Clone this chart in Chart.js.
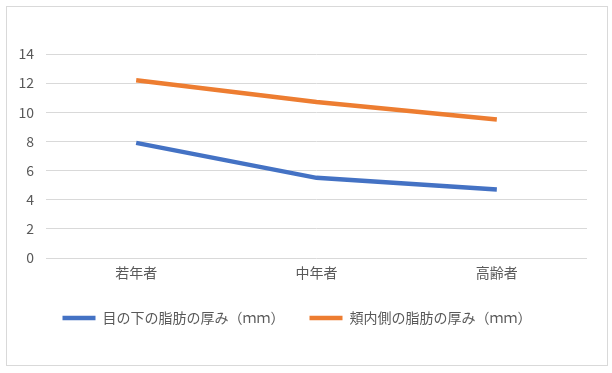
<!DOCTYPE html>
<html>
<head>
<meta charset="utf-8">
<script src="https://cdn.jsdelivr.net/npm/chart.js@4"></script>
<style>
  html, body { margin: 0; padding: 0; background: #fff; }
  #wrap {
    position: absolute; left: 6px; top: 6px;
    width: 600px; height: 358px;
    border: 1px solid #d9d9d9;
  }
</style>
</head>
<body>
<div id="wrap"><canvas id="grafica" width="600" height="358"></canvas></div>
<script>
// データ
const categorias = ['若年者', '中年者', '高齢者'];
const serieOjo = [7.9, 5.5, 4.7];
const serieMejilla = [12.2, 10.7, 9.5];
const nombreOjo = '目の下の脂肪の厚み（ｍｍ）';
const nombreMejilla = '頬内側の脂肪の厚み（ｍｍ）';

const fuente = "'Noto Sans CJK JP', 'Noto Sans', sans-serif";
const gris = '#595959';

const ctx = document.getElementById('grafica').getContext('2d');
new Chart(ctx, {
  type: 'line',
  data: {
    labels: categorias,
    datasets: [
      {
        label: nombreOjo,
        data: serieOjo,
        borderColor: '#4472C4',
        backgroundColor: '#4472C4',
        borderWidth: 4.5,
        pointRadius: 0,
        tension: 0
      },
      {
        label: nombreMejilla,
        data: serieMejilla,
        borderColor: '#ED7D31',
        backgroundColor: '#ED7D31',
        borderWidth: 4.5,
        pointRadius: 0,
        tension: 0
      }
    ]
  },
  options: {
    responsive: false,
    animation: false,
    layout: { padding: { top: 47, right: 20, bottom: 30, left: 0 } },
    scales: {
      x: {
        offset: true,
        grid: { display: false, drawTicks: false },
        border: { display: false },
        ticks: { color: gris, font: { family: fuente, size: 14 }, padding: 6 },
        afterFit: s => { s.height = 28; }
      },
      y: {
        min: 0,
        max: 14,
        ticks: { stepSize: 2, color: gris, font: { family: fuente, size: 14 }, padding: 12 },
        grid: { color: '#d9d9d9', drawTicks: false },
        border: { display: false },
        afterFit: s => { s.width = 39; }
      }
    },
    plugins: {
      legend: {
        position: 'bottom',
        labels: {
          usePointStyle: true,
          pointStyle: 'line',
          pointStyleWidth: 33,
          padding: 25,
          color: gris,
          font: { family: fuente, size: 14 }
        }
      },
      tooltip: { enabled: false }
    }
  }
});
</script>
</body>
</html>
